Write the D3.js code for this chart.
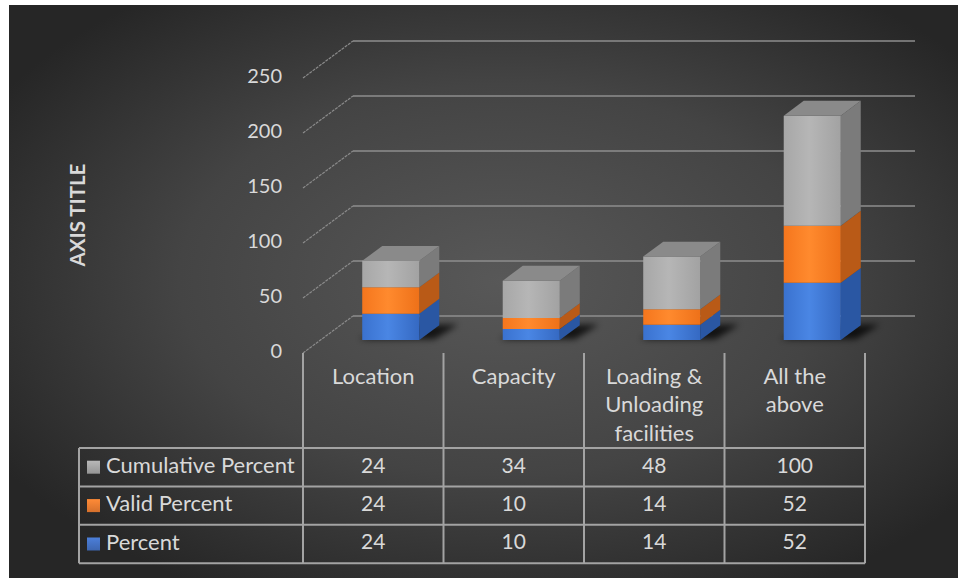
<!DOCTYPE html>
<html>
<head>
<meta charset="utf-8">
<script src="https://cdn.jsdelivr.net/npm/d3@7"></script>
<style>
  html, body { margin: 0; padding: 0; background: #ffffff; }
  svg { display: block; }
  text { font-family: Lato, "Open Sans", sans-serif; fill: #d9d9d9; }
</style>
</head>
<body>
<svg id="chart" width="958" height="578"></svg>
<script>
// ---- data ----
const categories = ["Location", "Capacity", "Loading & Unloading facilities", "All the above"];
const categoryLines = [["Location"], ["Capacity"], ["Loading &", "Unloading", "facilities"], ["All the", "above"]];
const seriesNames = ["Percent", "Valid Percent", "Cumulative Percent"];
const percent = [24, 10, 14, 52];
const validPercent = [24, 10, 14, 52];
const cumulativePercent = [24, 34, 48, 100];
const yTicks = [0, 50, 100, 150, 200, 250];
const axisTitle = "AXIS TITLE";

const seriesValues = [percent, validPercent, cumulativePercent];
const rows = categories.map((c, i) => {
  const r = { category: c };
  seriesNames.forEach((s, k) => r[s] = seriesValues[k][i]);
  return r;
});

// ---- styles ----
const faceColors = {
  "Percent":            { front: ["#3a72cf", "#4a86e4", "#3569c2"], side: "#2a57a3", top: "#3f73c8", key: "#4472c4" },
  "Valid Percent":      { front: ["#f5761d", "#ff8a2e", "#ee7119"], side: "#b95a17", top: "#e0701d", key: "#ed7d31" },
  "Cumulative Percent": { front: ["#a7a7a7", "#b6b6b6", "#a2a2a2"], side: "#7b7b7b", top: "#8a8a8a", key: "#a5a5a5" }
};
const wordSize = 22, digitSize = 20;

// ---- layout ----
const svg = d3.select("#chart");
const W = 958, H = 578;
const floorX0 = 303, floorX1 = 865, floorY = 353;   // front edge of the floor
const depth = [50, -37];                            // oblique depth vector
const barFront = 0.35, barBack = 0.75;              // depth range of the columns

const x = d3.scaleBand().domain(categories).range([floorX0, floorX1])
  .paddingInner(0.594).paddingOuter(0.297);
const xCol = d3.scaleBand().domain(categories).range([floorX0, floorX1]);
const y = d3.scaleLinear().domain([0, 250]).range([0, 275]);

// projected point: floor x, value v, depth fraction f
const P = (px, v, f) => [px + f * depth[0], floorY - y(v) + f * depth[1]];

const defs = svg.append("defs");

const bg = defs.append("radialGradient").attr("id", "bg")
  .attr("cx", "52%").attr("cy", "48%").attr("r", "62%");
bg.append("stop").attr("offset", "0%").attr("stop-color", "#585858");
bg.append("stop").attr("offset", "55%").attr("stop-color", "#444444");
bg.append("stop").attr("offset", "100%").attr("stop-color", "#262626");

seriesNames.forEach((s, k) => {
  const g = defs.append("linearGradient").attr("id", "front" + k)
    .attr("x1", "0%").attr("x2", "100%").attr("y1", "0%").attr("y2", "0%");
  const c = faceColors[s].front;
  g.append("stop").attr("offset", "0%").attr("stop-color", c[0]);
  g.append("stop").attr("offset", "45%").attr("stop-color", c[1]);
  g.append("stop").attr("offset", "100%").attr("stop-color", c[2]);
  const kg = defs.append("linearGradient").attr("id", "key" + k)
    .attr("x1", "0%").attr("x2", "0%").attr("y1", "0%").attr("y2", "100%");
  kg.append("stop").attr("offset", "0%").attr("stop-color", d3.color(faceColors[s].key).brighter(0.3));
  kg.append("stop").attr("offset", "100%").attr("stop-color", d3.color(faceColors[s].key).darker(0.3));
});

defs.append("filter").attr("id", "shadowBlur").attr("x", "-50%").attr("y", "-50%")
  .attr("width", "200%").attr("height", "200%")
  .append("feGaussianBlur").attr("stdDeviation", 3);

// background panel
svg.append("rect").attr("x", 9).attr("y", 5).attr("width", W - 9).attr("height", H - 5)
  .attr("fill", "url(#bg)");

// ---- gridlines: side wall diagonals + back wall horizontals ----
const grid = svg.append("g");
yTicks.forEach(t => {
  const a = P(floorX0, t, 0), b = P(floorX0, t, 1), c = P(floorX1, t, 1);
  grid.append("line").attr("x1", a[0]).attr("y1", a[1]).attr("x2", b[0]).attr("y2", b[1])
    .attr("stroke", "#8a8a8a").attr("stroke-width", 1.2).attr("stroke-dasharray", "3,1");
  grid.append("line").attr("x1", b[0]).attr("y1", b[1]).attr("x2", c[0]).attr("y2", c[1])
    .attr("stroke", "#8e8e8e").attr("stroke-width", 1.6);
});

// y tick labels
svg.append("g").selectAll("text").data(yTicks).join("text")
  .attr("x", 282).attr("y", d => floorY - y(d))
  .attr("text-anchor", "end").attr("dominant-baseline", "middle")
  .attr("font-size", digitSize).text(d => d);

// axis title
svg.append("text")
  .attr("transform", "translate(80,215) rotate(-90)")
  .attr("text-anchor", "middle").attr("dominant-baseline", "middle")
  .attr("font-size", 20.5).attr("font-weight", "bold").text(axisTitle);

// ---- columns ----
const stacked = d3.stack().keys(seriesNames)(rows);
const bars = svg.append("g");
const poly = pts => "M" + pts.map(p => p.join(",")).join("L") + "Z";

// floor shadows
categories.forEach((c, i) => {
  const x0 = x(c), x1 = x(c) + x.bandwidth();
  const pts = [P(x0 - 4, 0, barFront + 0.02), P(x1 + 14, 0, barFront + 0.02),
               P(x1 + 18, 0, barBack + 0.02), P(x0 + 6, 0, barBack)];
  bars.append("path").attr("d", poly(pts)).attr("fill", "#000")
    .attr("opacity", 0.75).attr("filter", "url(#shadowBlur)");
});

stacked.forEach((layer, k) => {
  const s = seriesNames[k];
  layer.forEach((d, i) => {
    const c = categories[i];
    const x0 = x(c), x1 = x(c) + x.bandwidth();
    const v0 = d[0], v1 = d[1];
    // side face
    bars.append("path")
      .attr("d", poly([P(x1, v0, barFront), P(x1, v0, barBack), P(x1, v1, barBack), P(x1, v1, barFront)]))
      .attr("fill", faceColors[s].side);
    // front face
    bars.append("path")
      .attr("d", poly([P(x0, v0, barFront), P(x1, v0, barFront), P(x1, v1, barFront), P(x0, v1, barFront)]))
      .attr("fill", `url(#front${k})`);
    // top face on the top segment only
    if (k === stacked.length - 1) {
      bars.append("path")
        .attr("d", poly([P(x0, v1, barFront), P(x1, v1, barFront), P(x1, v1, barBack), P(x0, v1, barBack)]))
        .attr("fill", faceColors[s].top);
    }
  });
});

// ---- category header + data table ----
const lineColor = "#a3a3a3";
const tbl = svg.append("g");
const tableLeft = 79, tableTop = 448, rowH = 38.4;
const tableRows = seriesNames.slice().reverse();   // Cumulative, Valid, Percent
const tableBottom = tableTop + rowH * tableRows.length;

// vertical category separators
const bounds = categories.map(c => xCol(c)).concat([floorX1]);
bounds.forEach(bx => {
  tbl.append("line").attr("x1", bx).attr("x2", bx).attr("y1", floorY).attr("y2", tableBottom)
    .attr("stroke", lineColor).attr("stroke-width", 2);
});
// horizontal rules
d3.range(tableRows.length + 1).forEach(r => {
  const yy = tableTop + r * rowH;
  tbl.append("line").attr("x1", tableLeft).attr("x2", floorX1).attr("y1", yy).attr("y2", yy)
    .attr("stroke", lineColor).attr("stroke-width", 2);
});
tbl.append("line").attr("x1", tableLeft).attr("x2", tableLeft).attr("y1", tableTop).attr("y2", tableBottom)
  .attr("stroke", lineColor).attr("stroke-width", 2);

// category labels
categories.forEach((c, i) => {
  const cx = xCol(c) + xCol.bandwidth() / 2;
  categoryLines[i].forEach((ln, j) => {
    tbl.append("text").attr("x", cx).attr("y", 378 + j * 28.5)
      .attr("text-anchor", "middle").attr("dominant-baseline", "middle")
      .attr("font-size", wordSize).text(ln);
  });
});

// rows: legend key, series name, values
tableRows.forEach((s, r) => {
  const k = seriesNames.indexOf(s);
  const cy = tableTop + r * rowH + rowH / 2;
  tbl.append("rect").attr("x", 87).attr("y", cy - 6.5).attr("width", 13).attr("height", 13)
    .attr("fill", `url(#key${k})`);
  tbl.append("text").attr("x", 106).attr("y", cy).attr("dominant-baseline", "middle")
    .attr("font-size", wordSize).text(s);
  categories.forEach((c, i) => {
    tbl.append("text").attr("x", xCol(c) + xCol.bandwidth() / 2).attr("y", cy)
      .attr("text-anchor", "middle").attr("dominant-baseline", "middle")
      .attr("font-size", digitSize + 1).text(seriesValues[k][i]);
  });
});
</script>
</body>
</html>
